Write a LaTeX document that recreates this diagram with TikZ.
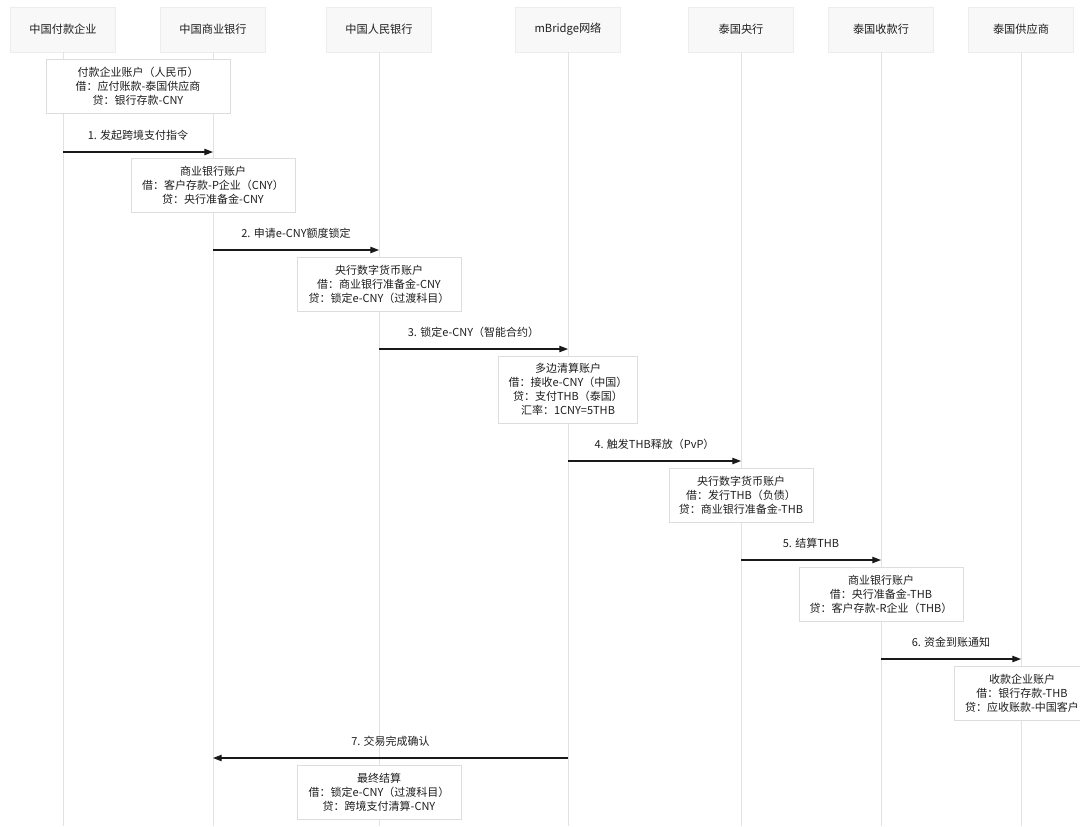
\documentclass[tikz,border=0pt]{standalone}
\usepackage{fontspec}
\setmainfont{Noto Sans CJK SC}
\usepackage{xcolor}
\usepackage{tikz}
\definecolor{textgray}{HTML}{1E1E1E}
\definecolor{lifegray}{HTML}{E2E2E2}
\definecolor{actorfill}{HTML}{F8F8F8}
\definecolor{actorline}{HTML}{EDEDED}
\definecolor{noteline}{HTML}{DDDDDD}
\usetikzlibrary{arrows.meta, positioning}

\begin{document}
\begin{tikzpicture}[
    x=0.75pt, y=-0.75pt,
    actor/.style={rectangle, draw=actorline, fill=actorfill, minimum width=78.75pt, minimum height=33.75pt, font=\fontsize{8.4}{10.5}\selectfont, text=textgray},
    note/.style={rectangle, draw=noteline, fill=white, minimum height=40.5pt, align=center, font=\fontsize{8.25}{10.5}\selectfont, text=textgray},
    lifeline/.style={draw=lifegray, line width=0.75pt},
    msg/.style={-{Triangle[length=6.5pt, width=4.8pt]}, line width=0.8pt, draw=black!90},
    msglabel/.style={above=8.5pt, inner sep=0pt, font=\fontsize{8.25}{10.5}\selectfont, text=textgray}
]
    \useasboundingbox (0,0) rectangle (1080,826);

    % participants
    \node[actor] (payer) at (63, 29.5) {中国付款企业};
    \node[actor] (cnbank) at (213, 29.5) {中国商业银行};
    \node[actor] (pboc) at (379, 29.5) {中国人民银行};
    \node[actor] (mbridge) at (568, 29.5) {mBridge网络};
    \node[actor] (bot) at (741, 29.5) {泰国央行};
    \node[actor] (thbank) at (881, 29.5) {泰国收款行};
    \node[actor] (supplier) at (1021, 29.5) {泰国供应商};

    \foreach \p in {payer, cnbank, pboc, mbridge, bot, thbank, supplier}
        \draw[lifeline] (\p.south) -- (\p.south |- 0,826);

    % ledger notes
    \node[note, minimum width=138pt] (ledgerA) at (138, 86) {付款企业账户（人民币）\\借：应付账款-泰国供应商\\贷：银行存款-CNY};
    \node[note, minimum width=123pt] (ledgerB) at (213, 185) {商业银行账户\\借：客户存款-P企业（CNY）\\贷：央行准备金-CNY};
    \node[note, minimum width=123pt] (ledgerC) at (379, 284) {央行数字货币账户\\借：商业银行准备金-CNY\\贷：锁定e-CNY（过渡科目）};
    \node[note, minimum width=104.25pt, minimum height=50.25pt] (ledgerD) at (568, 389.5) {多边清算账户\\借：接收e-CNY（中国）\\贷：支付THB（泰国）\\汇率：1CNY=5THB};
    \node[note, minimum width=108pt] (ledgerE) at (741, 495) {央行数字货币账户\\借：发行THB（负债）\\贷：商业银行准备金-THB};
    \node[note, minimum width=123pt] (ledgerF) at (881, 594) {商业银行账户\\借：央行准备金-THB\\贷：客户存款-R企业（THB）};
    \node[note, minimum width=102pt] (ledgerG) at (1022, 693) {收款企业账户\\借：银行存款-THB\\贷：应收账款-中国客户};
    \node[note, minimum width=123pt] (ledgerH) at (379, 792) {最终结算\\借：锁定e-CNY（过渡科目）\\贷：跨境支付清算-CNY};

    % messages
    \draw[msg] (payer |- 0,152) -- node[msglabel] {1. 发起跨境支付指令} (cnbank |- 0,152);
    \draw[msg] (cnbank |- 0,250) -- node[msglabel] {2. 申请e-CNY额度锁定} (pboc |- 0,250);
    \draw[msg] (pboc |- 0,349) -- node[msglabel] {3. 锁定e-CNY（智能合约）} (mbridge |- 0,349);
    \draw[msg] (mbridge |- 0,461) -- node[msglabel] {4. 触发THB释放（PvP）} (bot |- 0,461);
    \draw[msg] (bot |- 0,560) -- node[msglabel] {5. 结算THB} (thbank |- 0,560);
    \draw[msg] (thbank |- 0,659) -- node[msglabel] {6. 资金到账通知} (supplier |- 0,659);
    \draw[msg] (mbridge |- 0,758) -- node[msglabel] {7. 交易完成确认} (cnbank |- 0,758);
\end{tikzpicture}
\end{document}
